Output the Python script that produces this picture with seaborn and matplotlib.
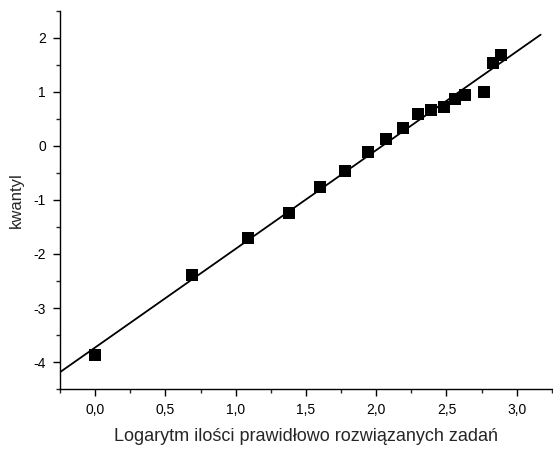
import numpy as np
import pandas as pd
import matplotlib
matplotlib.use("Agg")
import matplotlib.pyplot as plt
import seaborn as sns
from matplotlib.ticker import MultipleLocator, FuncFormatter

# Data
log_solved = [0.00, 0.69, 1.09, 1.38, 1.60, 1.78, 1.94, 2.07, 2.19, 2.30,
              2.39, 2.48, 2.56, 2.63, 2.77, 2.83, 2.89]
quantile = [-3.87, -2.39, -1.71, -1.25, -0.76, -0.47, -0.11, 0.13, 0.34, 0.60,
            0.67, 0.73, 0.87, 0.94, 1.00, 1.54, 1.68]
fit_range = [-0.25, 3.17]

df = pd.DataFrame({"x": log_solved, "y": quantile})
slope, intercept = np.polyfit(df["x"], df["y"], 1)
fit = pd.DataFrame({"x": fit_range})
fit["y"] = intercept + slope * fit["x"]

sns.set_style("ticks")
plt.rcParams["font.family"] = ["Liberation Sans", "DejaVu Sans"]

fig = plt.figure(figsize=(5.53, 4.49), dpi=100)
ax = fig.add_axes([0.1085, 0.1336, 0.8895, 0.842])

sns.lineplot(data=fit, x="x", y="y", color="black", linewidth=1.3, ax=ax)
sns.scatterplot(data=df, x="x", y="y", marker="s", s=72, color="black",
                edgecolor="black", linewidth=0, ax=ax, zorder=3)

ax.set_xlim(-0.25, 3.25)
ax.set_ylim(-4.5, 2.5)
ax.xaxis.set_major_locator(MultipleLocator(0.5))
ax.xaxis.set_minor_locator(MultipleLocator(0.25))
ax.yaxis.set_major_locator(MultipleLocator(1))
ax.yaxis.set_minor_locator(MultipleLocator(0.5))
ax.xaxis.set_major_formatter(FuncFormatter(lambda v, p: f"{v:.1f}".replace(".", ",")))
ax.yaxis.set_major_formatter(FuncFormatter(lambda v, p: f"{int(round(v))}"))

sns.despine(ax=ax)
for s in ["left", "bottom"]:
    ax.spines[s].set_linewidth(1.0)
    ax.spines[s].set_color("black")
ax.tick_params(which="major", length=5, width=1.0, labelsize=10, colors="black", pad=5)
ax.tick_params(which="minor", length=3, width=1.0)

ax.set_xlabel("Logarytm ilości prawidłowo rozwiązanych zadań", fontsize=13, labelpad=8)
ax.set_ylabel("kwantyl", fontsize=12, labelpad=7)

fig.savefig("out.png", dpi=100)
